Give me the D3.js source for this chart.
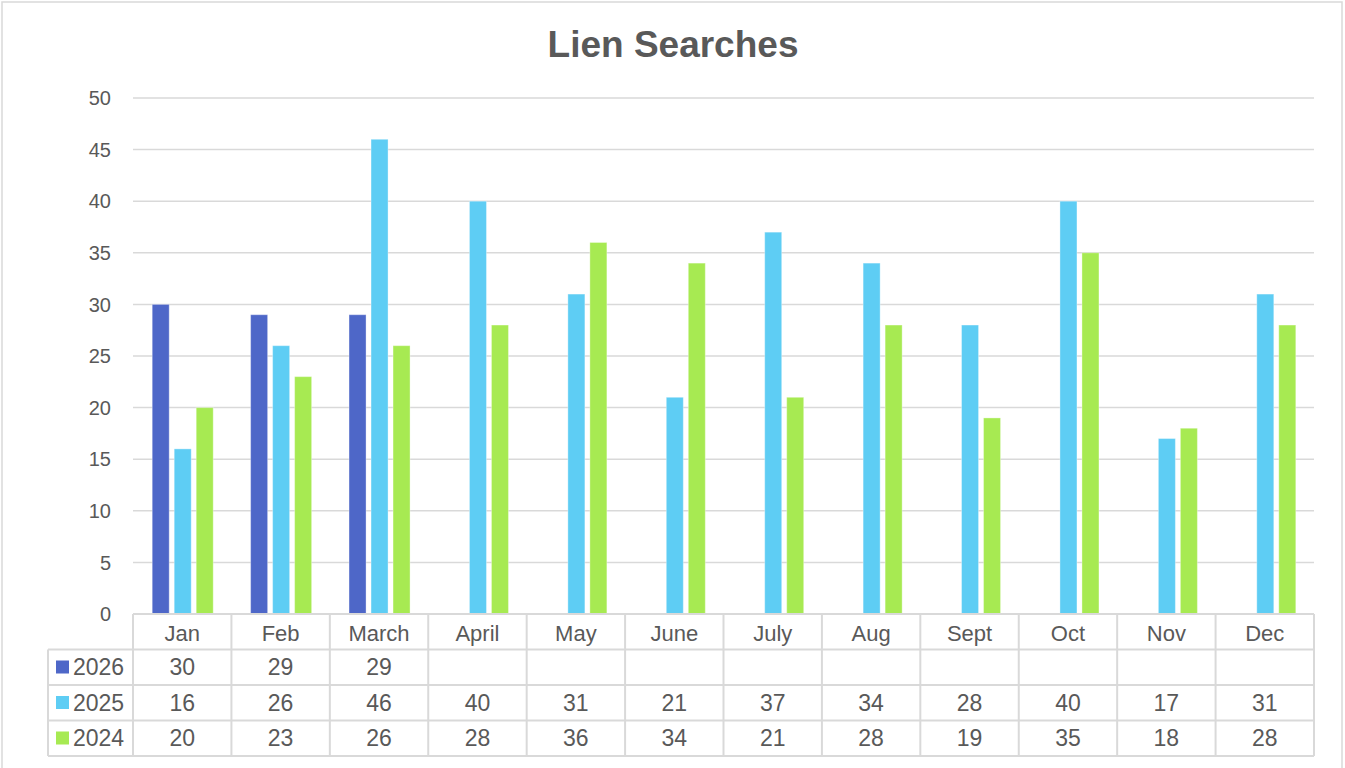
<!DOCTYPE html>
<html>
<head>
<meta charset="utf-8">
<script src="https://cdn.jsdelivr.net/npm/d3@7"></script>
<style>
  body { margin: 0; background: #fff; }
  text { font-family: "Liberation Sans", Arial, sans-serif; fill: #595959; }
</style>
</head>
<body>
<svg id="chart" width="1345" height="768"></svg>
<script>
var months = ["Jan", "Feb", "March", "April", "May", "June", "July", "Aug", "Sept", "Oct", "Nov", "Dec"];
var seriesNames = ["2026", "2025", "2024"];
var values2026 = [30, 29, 29, null, null, null, null, null, null, null, null, null];
var values2025 = [16, 26, 46, 40, 31, 21, 37, 34, 28, 40, 17, 31];
var values2024 = [20, 23, 26, 28, 36, 34, 21, 28, 19, 35, 18, 28];
var yTicks = [0, 5, 10, 15, 20, 25, 30, 35, 40, 45, 50];

var colors = {"2026": "#4e67c8", "2025": "#5ecdf4", "2024": "#a7ea52"};
var series = [
  {name: "2026", values: values2026},
  {name: "2025", values: values2025},
  {name: "2024", values: values2024}
];

var margin = {top: 98, left: 133, right: 31, bottom: 154};
var W = 1345, H = 768;
var plotW = W - margin.left - margin.right,
    plotH = H - margin.top - margin.bottom;

var svg = d3.select("#chart");

// chart border
svg.append("rect")
  .attr("x", 2).attr("y", 2)
  .attr("width", 1340).attr("height", 780)
  .attr("fill", "none")
  .attr("stroke", "#d9d9d9")
  .attr("stroke-width", 1.5);

// title
svg.append("text")
  .attr("x", 673).attr("y", 57)
  .attr("text-anchor", "middle")
  .style("font-size", "37px")
  .style("font-weight", "bold")
  .text("Lien Searches");

var x = d3.scaleBand()
  .domain(months)
  .range([margin.left, margin.left + plotW])
  .padding(0);

var xs = d3.scaleBand()
  .domain(seriesNames)
  .range([0, x.bandwidth()])
  .paddingInner(0.227)
  .paddingOuter(0.85);

var y = d3.scaleLinear()
  .domain([0, 50])
  .range([margin.top + plotH, margin.top]);

// gridlines
svg.append("g")
  .selectAll("line")
  .data(yTicks.slice(1))
  .enter()
  .append("line")
    .attr("x1", margin.left).attr("x2", margin.left + plotW)
    .attr("y1", d => y(d)).attr("y2", d => y(d))
    .attr("stroke", "#d9d9d9")
    .attr("stroke-width", 1.5);

// y labels
svg.append("g")
  .selectAll("text")
  .data(yTicks)
  .enter()
  .append("text")
    .attr("x", 111)
    .attr("y", d => y(d))
    .attr("dy", "0.36em")
    .attr("text-anchor", "end")
    .style("font-size", "20px")
    .text(d => d);

// bars
series.forEach(function(s) {
  svg.append("g")
    .selectAll("rect")
    .data(s.values.map((v, i) => ({month: months[i], value: v})).filter(d => d.value != null))
    .enter()
    .append("rect")
      .attr("x", d => x(d.month) + xs(s.name) + 0.5)
      .attr("y", d => y(d.value))
      .attr("width", xs.bandwidth())
      .attr("height", d => y(0) - y(d.value))
      .attr("fill", colors[s.name])
      .attr("stroke", "#ffffff")
      .attr("stroke-opacity", 0.35)
      .attr("stroke-width", 1);
});

// data table
var rowTop = y(0);
var rowH = 35.5;
var legendLeft = 48;
var tableRight = margin.left + plotW;
var grid = svg.append("g")
  .attr("stroke", "#d9d9d9")
  .attr("stroke-width", 2);

// horizontal lines
grid.append("line")
  .attr("x1", margin.left).attr("x2", tableRight)
  .attr("y1", rowTop).attr("y2", rowTop);
for (var r = 1; r <= 4; r++) {
  grid.append("line")
    .attr("x1", legendLeft).attr("x2", tableRight)
    .attr("y1", rowTop + r * rowH).attr("y2", rowTop + r * rowH);
}
// vertical lines
grid.append("line")
  .attr("x1", legendLeft).attr("x2", legendLeft)
  .attr("y1", rowTop + rowH).attr("y2", rowTop + 4 * rowH);
months.forEach(function(m) {
  grid.append("line")
    .attr("x1", x(m)).attr("x2", x(m))
    .attr("y1", rowTop).attr("y2", rowTop + 4 * rowH);
});
grid.append("line")
  .attr("x1", tableRight).attr("x2", tableRight)
  .attr("y1", rowTop).attr("y2", rowTop + 4 * rowH);

// month header
svg.append("g")
  .selectAll("text")
  .data(months)
  .enter()
  .append("text")
    .attr("x", d => x(d) + x.bandwidth() / 2)
    .attr("y", rowTop + rowH - 9)
    .attr("text-anchor", "middle")
    .style("font-size", "22px")
    .text(d => d);

// rows
series.forEach(function(s, i) {
  var base = rowTop + (i + 2) * rowH - 10;
  svg.append("rect")
    .attr("x", 56)
    .attr("y", rowTop + (i + 1) * rowH + 11)
    .attr("width", 13).attr("height", 13)
    .attr("fill", colors[s.name]);
  svg.append("text")
    .attr("x", 73).attr("y", base)
    .style("font-size", "23px")
    .text(s.name);
  svg.append("g")
    .selectAll("text")
    .data(s.values.map((v, j) => ({month: months[j], value: v})).filter(d => d.value != null))
    .enter()
    .append("text")
      .attr("x", d => x(d.month) + x.bandwidth() / 2)
      .attr("y", base)
      .attr("text-anchor", "middle")
      .style("font-size", "23px")
      .text(d => d.value);
});
</script>
</body>
</html>
